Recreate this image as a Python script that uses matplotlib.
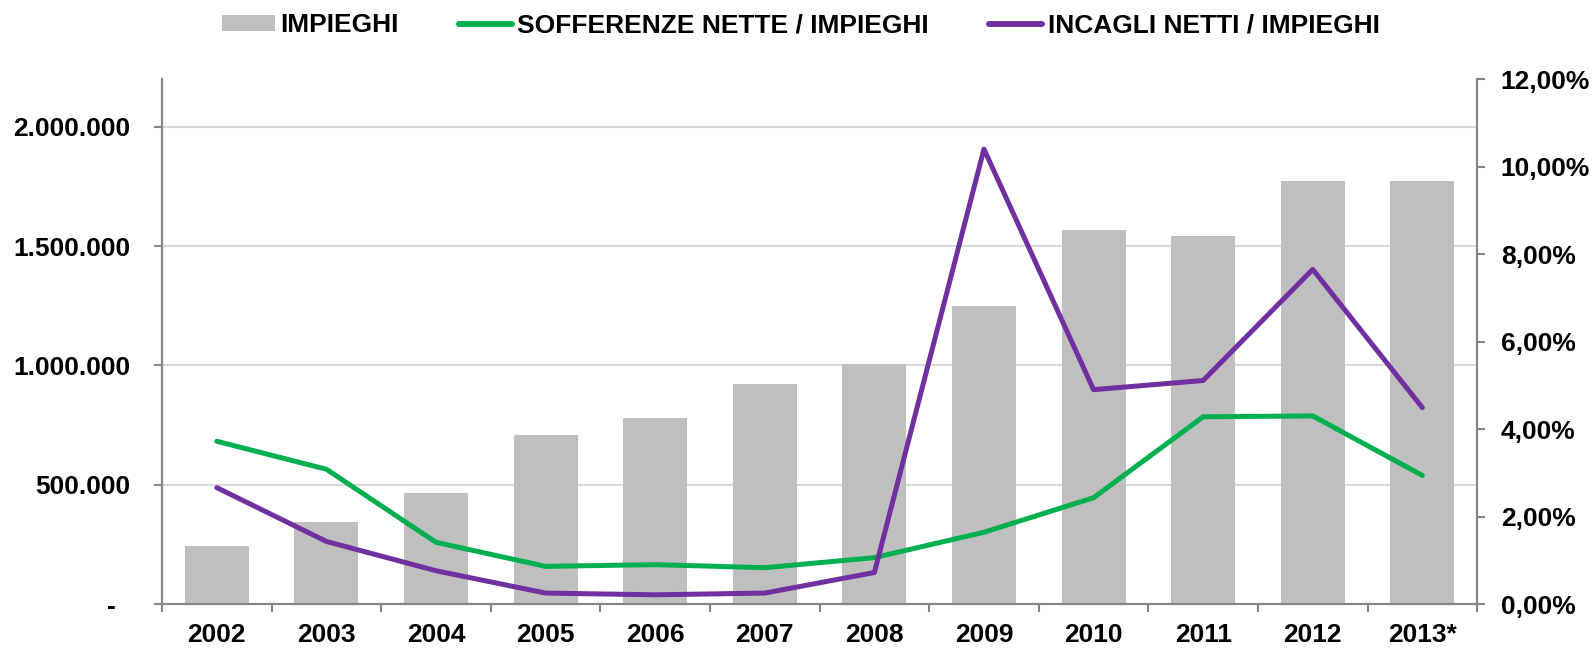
import numpy as np
from matplotlib import pyplot as plt
from matplotlib.ticker import FuncFormatter
from matplotlib.patches import Patch
from matplotlib.lines import Line2D

plt.rcParams['font.family'] = ['Liberation Sans', 'DejaVu Sans']
plt.rcParams['font.weight'] = 'bold'

years = ['2002', '2003', '2004', '2005', '2006', '2007',
         '2008', '2009', '2010', '2011', '2012', '2013*']
impieghi = [242000, 344000, 467000, 709000, 781000, 921000,
            1006000, 1248000, 1567000, 1541000, 1771000, 1775000]
sofferenze = [3.72, 3.08, 1.41, 0.86, 0.90, 0.83,
              1.06, 1.64, 2.43, 4.28, 4.30, 2.94]
incagli = [2.66, 1.43, 0.76, 0.25, 0.21, 0.25,
           0.72, 10.40, 4.90, 5.11, 7.65, 4.49]

grey = '#bfbfbf'
green = '#00b050'
purple = '#7030a0'
axis_col = '#868686'

def fmt_left(v, pos):
    if v == 0:
        return '-  '
    return '{:,.0f}'.format(v).replace(',', '.')

def fmt_right(v, pos):
    return '{:.2f}%'.format(v).replace('.', ',')

fig = plt.figure(figsize=(15.95, 6.48), dpi=100)
ax = fig.add_axes([0.1016, 0.0679, 0.8245, 0.810])
x = np.arange(len(years))

ax.bar(x, impieghi, width=0.585, color=grey, zorder=2)
ax.set_ylim(0, 2200000)
ax.set_yticks([0, 500000, 1000000, 1500000, 2000000])
ax.yaxis.set_major_formatter(FuncFormatter(fmt_left))
ax.yaxis.grid(True, color='#d9d9d9', linewidth=1.5, zorder=0)
ax.set_axisbelow(True)
ax.set_xlim(-0.5, len(years) - 0.5)
ax.set_xticks(x)
ax.set_xticklabels(years)
ax.set_xticks(np.arange(len(years) + 1) - 0.5, minor=True)
ax.tick_params(axis='x', which='major', length=0, pad=14, labelsize=19)
ax.tick_params(axis='x', which='minor', length=6, color=axis_col, width=1.5)
ax.tick_params(axis='y', length=6, color=axis_col, width=1.5, labelsize=19, pad=17)

ax2 = ax.twinx()
ax2.plot(x, sofferenze, color=green, linewidth=3.6, solid_capstyle='round')
ax2.plot(x, incagli, color=purple, linewidth=3.6, solid_capstyle='round')
ax2.set_ylim(0, 12)
ax2.set_yticks(np.arange(0, 13, 2))
ax2.yaxis.set_major_formatter(FuncFormatter(fmt_right))
ax2.tick_params(axis='y', length=6, color=axis_col, width=1.5, labelsize=19, pad=11)

for a in (ax, ax2):
    a.spines['top'].set_visible(False)
    for s in ('left', 'right', 'bottom'):
        a.spines[s].set_color(axis_col)
        a.spines[s].set_linewidth(1.5)

handles = [Patch(facecolor=grey, edgecolor='none'),
           Line2D([], [], color=green, linewidth=4.3, solid_capstyle='round'),
           Line2D([], [], color=purple, linewidth=4.3, solid_capstyle='round')]
labels = ['IMPIEGHI', 'SOFFERENZE NETTE / IMPIEGHI', 'INCAGLI NETTI / IMPIEGHI']
fig.legend(handles, labels, loc='center', bbox_to_anchor=(0.502, 0.961), ncol=3,
           frameon=False, fontsize=19, handlelength=2.0, handleheight=0.55,
           handletextpad=0.2, columnspacing=2.3)

fig.savefig('out.png', dpi=100)
